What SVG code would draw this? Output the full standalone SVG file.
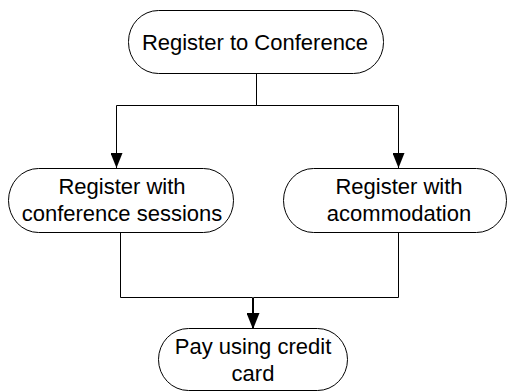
<svg xmlns="http://www.w3.org/2000/svg" width="509" height="392" viewBox="0 0 509 392">
<defs>
<marker id="arrow" markerUnits="userSpaceOnUse" markerWidth="15" markerHeight="12" refX="15" refY="6" orient="auto" viewBox="0 0 15 12">
<path d="M0,0 L15,6 L0,12 Z" fill="#000"/>
</marker>
<style>
.node rect{fill:#fff;stroke:#000;stroke-width:1}
.node text{font-family:"Liberation Sans",Arial,sans-serif;font-size:22px;fill:#000;text-anchor:middle}
.conn path{fill:none;stroke:#000;stroke-width:1;marker-end:url(#arrow)}
</style>
</defs>
<rect width="509" height="392" fill="#fff"/>
<g id="connectors" class="conn">
<path d="M256.5,73 V105.5 H116.5 V168"/>
<path d="M256.5,73 V105.5 H398.5 V168"/>
<path d="M120.5,233 V297.5 H252.5 V328"/>
<path d="M398.5,233 V297.5 H253.5 V328"/>
</g>
<g id="n1" class="node">
<rect x="128.5" y="10.5" width="255" height="63" rx="30" ry="31"/>
<text x="255" y="50">Register to Conference</text>
</g>
<g id="n2" class="node">
<rect x="8.5" y="168.5" width="225" height="64" rx="30" ry="32"/>
<text x="122" y="194">Register with</text>
<text x="122" y="221">conference sessions</text>
</g>
<g id="n3" class="node">
<rect x="283.5" y="168.5" width="223" height="64" rx="30" ry="32"/>
<text x="399" y="194">Register with</text>
<text x="399" y="221">acommodation</text>
</g>
<g id="n4" class="node">
<rect x="158.5" y="328.5" width="189" height="62" rx="30" ry="31"/>
<text x="253" y="354">Pay using credit</text>
<text x="253" y="381">card</text>
</g>
</svg>
